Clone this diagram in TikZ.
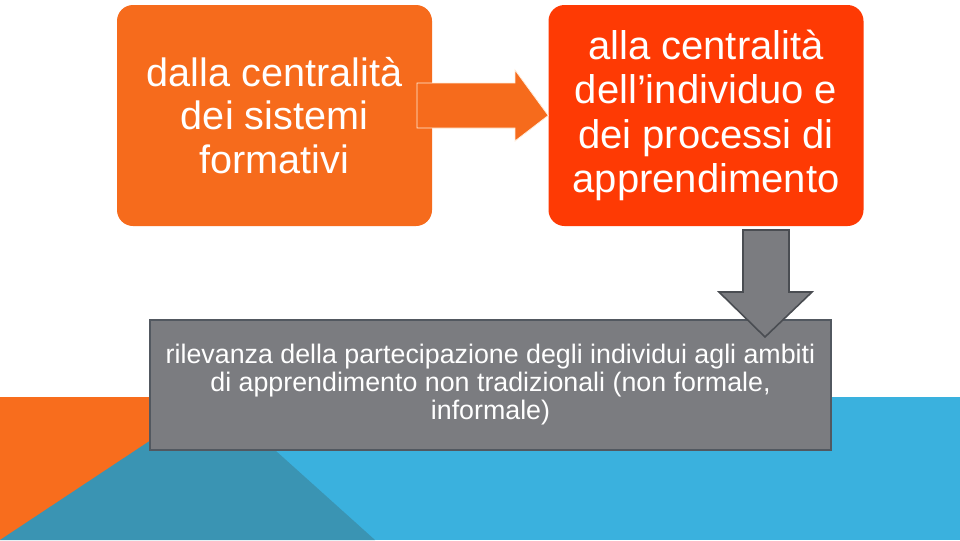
\documentclass[tikz,border=0pt]{standalone}
\usepackage{fontspec}
\setmainfont{Liberation Sans}
\definecolor{bgorange}{HTML}{F86D1D}
\definecolor{bgblue}{HTML}{3AB1DE}
\definecolor{bgteal}{HTML}{3A94B3}
\definecolor{boxorange}{HTML}{F66B1C}
\definecolor{boxred}{HTML}{FE3A04}
\definecolor{boxgray}{HTML}{7B7C80}
\definecolor{boxgrayline}{HTML}{525860}
\definecolor{arrowline}{HTML}{4A4D52}
\begin{document}
\begin{tikzpicture}[x=0.75pt,y=-0.75pt,
  topbox/.style={rounded corners=12pt, minimum width={315*0.75pt}, minimum height={221*0.75pt},
    text=white, align=center, inner sep=0pt},
  graybox/.style={draw=boxgrayline, line width=1.5pt, fill=boxgray, minimum width={681*0.75pt},
    minimum height={130*0.75pt}, text=white, align=center, inner sep=0pt,
    font=\fontsize{20.1}{21}\selectfont},
  blockarrowR/.style={fill=boxorange, draw=white!85!orange, line width=0.6pt},
  blockarrowD/.style={fill=boxgray, draw=arrowline, line width=1.2pt}]
\useasboundingbox (0,0) rectangle (960,540);
\fill[white] (0,0) rectangle (960,540);
% background
\fill[bgorange] (0,397) rectangle (216,540);
\fill[bgblue] (216,397) rectangle (960,540);
\fill[bgteal] (0,540) -- (216,397) -- (375,540) -- cycle;
% boxes
\node[topbox, fill=boxorange, font=\fontsize{29.7}{32.5}\selectfont] (src) at (274.5,115.5) {dalla centralità\\dei sistemi\\formativi};
\node[topbox, fill=boxred, font=\fontsize{30}{33.4}\selectfont] (dst) at (706,115.5) {alla centralità\\dell’individuo e\\dei processi di\\apprendimento};
\node[graybox] (res) at (490.5,385) {rilevanza della partecipazione degli individui agli ambiti\\di apprendimento non tradizionali (non formale,\\informale)};
% right arrow
\coordinate (rtip) at (dst.west);
\draw[blockarrowR] (417,83) -- (515,83) -- (515,70) -- (rtip) -- (515,141) -- (515,128) -- (417,128) -- cycle;
% down arrow
\coordinate (dtip) at (765,337);
\draw[blockarrowD] (743,230) -- (789,230) -- (789,292) -- (812,292) -- (dtip) -- (719,292) -- (743,292) -- cycle;
\end{tikzpicture}
\end{document}
